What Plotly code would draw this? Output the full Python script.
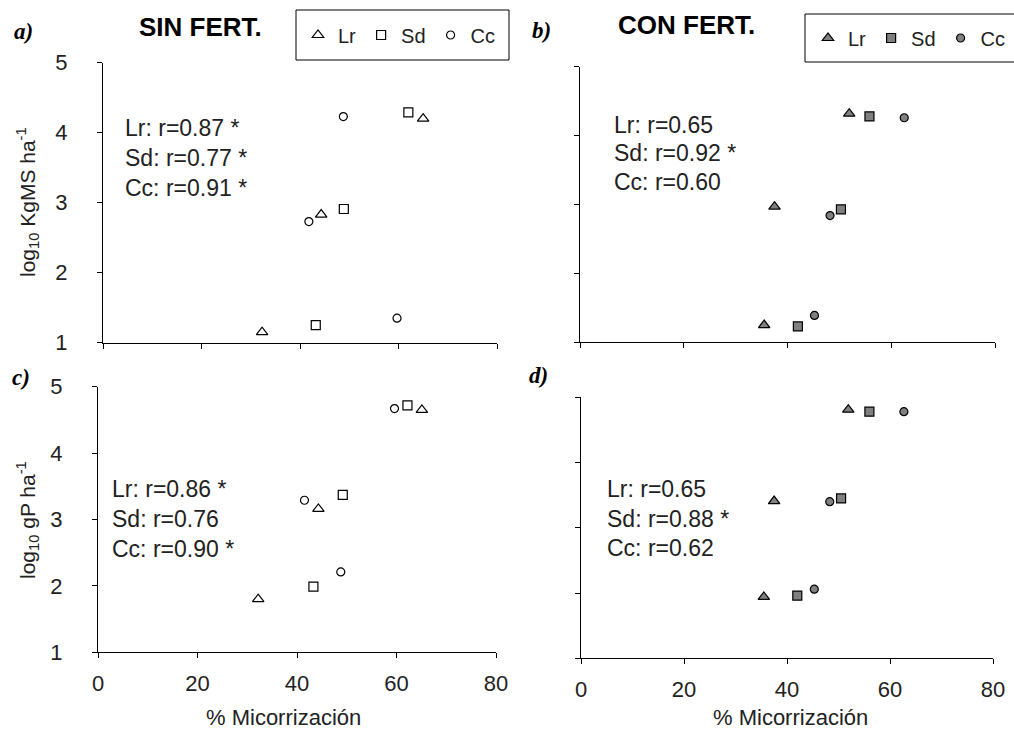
import plotly.graph_objects as go

W, H = 1014, 729

# ---------------- data ----------------
series_names = ["Lr", "Sd", "Cc"]
x_ticks = [0, 20, 40, 60, 80]
y_ticks = [1, 2, 3, 4, 5]

# a) SIN FERT. - log10 KgMS ha-1
a_lr_x = [32.3, 44.3, 65.0]
a_lr_y = [1.15, 2.83, 4.20]
a_sd_x = [43.2, 48.9, 62.0]
a_sd_y = [1.25, 2.91, 4.29]
a_cc_x = [41.8, 48.8, 59.7]
a_cc_y = [2.73, 4.23, 1.35]

# b) CON FERT. - log10 KgMS ha-1
b_lr_x = [35.5, 37.5, 51.9]
b_lr_y = [1.25, 2.97, 4.32]
b_sd_x = [42.0, 50.3, 55.8]
b_sd_y = [1.23, 2.93, 4.28]
b_cc_x = [45.2, 48.2, 62.5]
b_cc_y = [1.39, 2.84, 4.26]

# c) SIN FERT. - log10 gP ha-1
c_lr_x = [32.2, 44.3, 65.1]
c_lr_y = [1.80, 3.16, 4.65]
c_sd_x = [43.3, 49.2, 62.2]
c_sd_y = [1.99, 3.37, 4.72]
c_cc_x = [41.5, 48.8, 59.6]
c_cc_y = [3.29, 2.21, 4.67]

# d) CON FERT. - log10 gP ha-1
d_lr_x = [35.5, 37.5, 51.9]
d_lr_y = [1.94, 3.41, 4.81]
d_sd_x = [42.0, 50.5, 56.0]
d_sd_y = [1.96, 3.45, 4.78]
d_cc_x = [45.3, 48.3, 62.7]
d_cc_y = [2.06, 3.40, 4.78]

stats_a = ["Lr: r=0.87 *", "Sd: r=0.77 *", "Cc: r=0.91 *"]
stats_b = ["Lr: r=0.65", "Sd: r=0.92 *", "Cc: r=0.60"]
stats_c = ["Lr: r=0.86 *", "Sd: r=0.76", "Cc: r=0.90 *"]
stats_d = ["Lr: r=0.65", "Sd: r=0.88 *", "Cc: r=0.62"]

# ---------------- helpers ----------------
def px(x):
    return x / W


def py(y):
    return 1 - y / H


FONT = "Liberation Sans, Arial, sans-serif"
SERIF = "Liberation Serif, Times New Roman, serif"
TXT = "#222222"

symbols = {"Lr": "triangle-up", "Sd": "square", "Cc": "circle"}
sizes = {"Lr": 10, "Sd": 9, "Cc": 8}

fig = go.Figure()


def add_panel(xs, ys, axis_suffix, fill, legend_name):
    for name, xv, yv in zip(series_names, xs, ys):
        fig.add_trace(go.Scatter(
            x=xv, y=yv, mode="markers", name=name,
            xaxis="x" + axis_suffix, yaxis="y" + axis_suffix,
            marker=dict(symbol=symbols[name], size=sizes[name], color=fill,
                        line=dict(color="black", width=1.2)),
            showlegend=legend_name is not None,
            legend=legend_name if legend_name else "legend",
            cliponaxis=False,
        ))


add_panel([a_lr_x, a_sd_x, a_cc_x], [a_lr_y, a_sd_y, a_cc_y], "", "white", "legend")
add_panel([b_lr_x, b_sd_x, b_cc_x], [b_lr_y, b_sd_y, b_cc_y], "2", "#808080", "legend2")
add_panel([c_lr_x, c_sd_x, c_cc_x], [c_lr_y, c_sd_y, c_cc_y], "3", "white", None)
add_panel([d_lr_x, d_sd_x, d_cc_x], [d_lr_y, d_sd_y, d_cc_y], "4", "#808080", None)


def xax(dom, anchor, labels):
    return dict(domain=dom, anchor=anchor, range=[0, 80], tickvals=x_ticks,
                showticklabels=labels, showline=True, linecolor="black",
                linewidth=1, ticks="outside", ticklen=5, tickcolor="black",
                showgrid=False, zeroline=False, ticklabelstandoff=6,
                tickfont=dict(family=FONT, size=22, color=TXT))


def yax(dom, anchor, labels):
    return dict(domain=dom, anchor=anchor, range=[1, 5], tickvals=y_ticks,
                showticklabels=labels, showline=True, linecolor="black",
                linewidth=1, ticks="outside", ticklen=5, tickcolor="black",
                showgrid=False, zeroline=False, ticklabelstandoff=25,
                tickfont=dict(family=FONT, size=22, color=TXT))


annotations = []


def ann(text, x, y, size=22, xanchor="center", family=FONT, angle=0, color=TXT):
    annotations.append(dict(text=text, x=px(x), y=py(y), xref="paper",
                            yref="paper", showarrow=False, xanchor=xanchor,
                            yanchor="middle", textangle=angle,
                            font=dict(family=family, size=size, color=color)))


# headers
ann("<b>SIN FERT.</b>", 200, 27, size=26, color="black")
ann("<b>CON FERT.</b>", 686, 25, size=26, color="black")
# panel labels
ann("<b><i>a)</i></b>", 23, 32, size=23, family=SERIF, color="black")
ann("<b><i>b)</i></b>", 541, 31, size=23, family=SERIF, color="black")
ann("<b><i>c)</i></b>", 21, 377, size=23, family=SERIF, color="black")
ann("<b><i>d)</i></b>", 538, 376, size=23, family=SERIF, color="black")

# stats text
for lines, x0, ys in [(stats_a, 123, [128, 158, 188]),
                      (stats_b, 612, [125, 153, 182]),
                      (stats_c, 110, [489, 519, 549]),
                      (stats_d, 605, [489, 519, 548])]:
    for t, yy in zip(lines, ys):
        ann(t, x0, yy, size=23, xanchor="left")

# axis titles
ann("log<sub>10</sub> KgMS ha<sup>-1</sup>", 28, 202, size=21, angle=-90)
ann("log<sub>10</sub> gP ha<sup>-1</sup>", 27, 520, size=21, angle=-90)
ann("% Micorrización", 283, 717, size=22)
ann("% Micorrización", 790, 717, size=22)

shapes = [
    dict(type="rect", xref="paper", yref="paper", x0=px(296), x1=px(509),
         y0=py(60), y1=py(10), line=dict(color="black", width=1)),
    dict(type="rect", xref="paper", yref="paper", x0=px(805), x1=px(1040),
         y0=py(62), y1=py(14), line=dict(color="black", width=1)),
]

legend_common = dict(orientation="h", xanchor="left", yanchor="middle",
                     bgcolor="rgba(0,0,0,0)", borderwidth=0,
                     font=dict(family=FONT, size=20, color=TXT))

fig.update_layout(
    width=W, height=H,
    margin=dict(l=0, r=0, t=0, b=0, autoexpand=False),
    paper_bgcolor="white", plot_bgcolor="white",
    xaxis=xax([px(103), px(497)], "y", False),
    yaxis=yax([py(342.7), py(62.7)], "x", True),
    xaxis2=xax([px(580), px(995)], "y2", False),
    yaxis2=yax([py(342.3), py(66.8)], "x2", False),
    xaxis3=xax([px(98), px(496)], "y3", True),
    yaxis3=yax([py(652.3), py(386.7)], "x3", True),
    xaxis4=xax([px(581), px(993)], "y4", True),
    yaxis4=yax([py(658.3), py(397.3)], "x4", False),
    legend=dict(x=px(298), y=py(35), **legend_common),
    legend2=dict(x=px(808), y=py(38), **legend_common),
    annotations=annotations,
    shapes=shapes,
)

fig.write_html(
    "out.html",
    config={"displayModeBar": False},
    post_script="document.body.style.margin='0px';document.body.style.overflow='hidden';",
)
